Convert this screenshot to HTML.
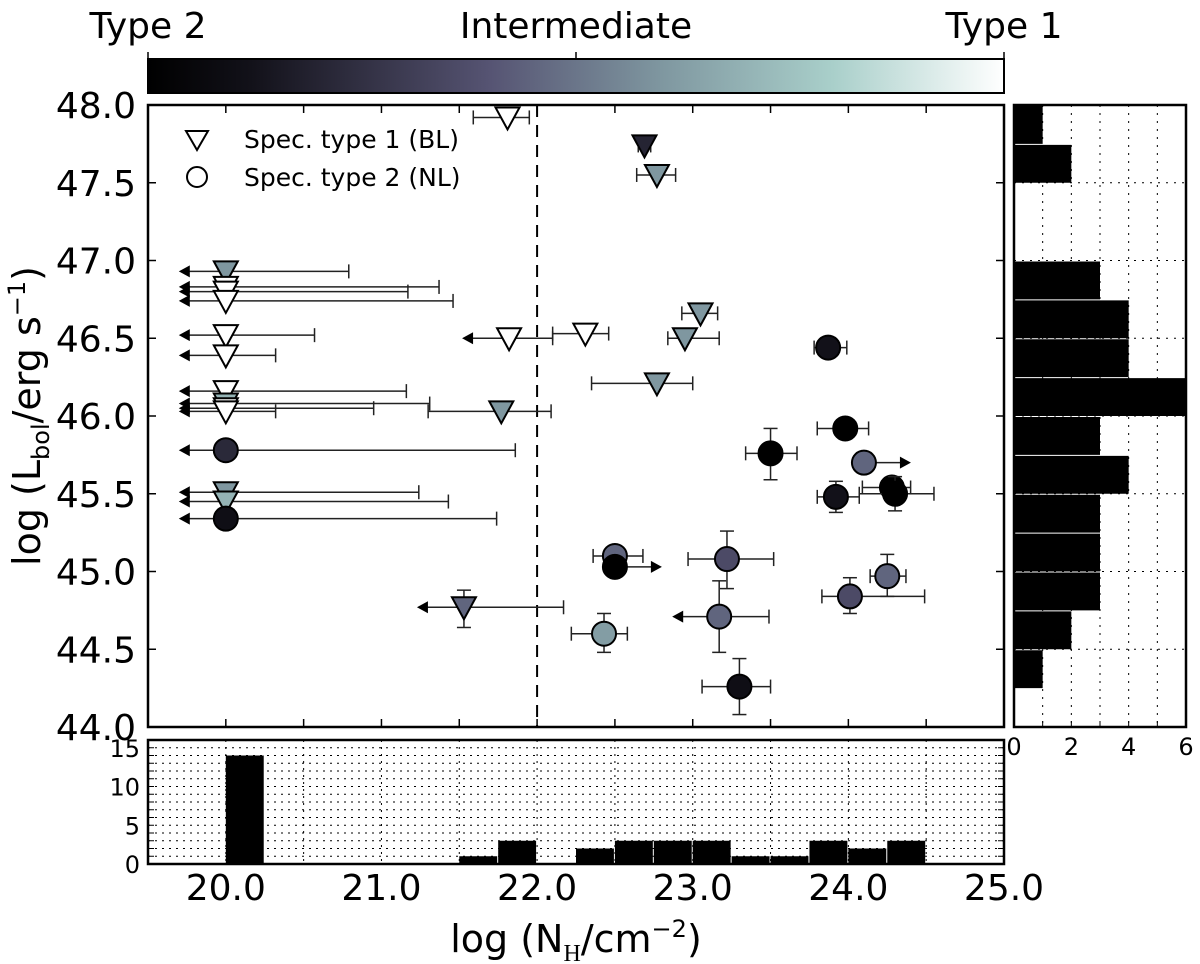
<!DOCTYPE html>
<html><head><meta charset="utf-8"><style>
html,body{margin:0;padding:0;background:#fff;}
svg{display:block;font-family:"DejaVu Sans","Liberation Sans",sans-serif;}
</style></head><body>
<svg id="chart" width="1200" height="964" viewBox="0 0 1200 964">
<defs>
<linearGradient id="cmap" x1="0" x2="1" y1="0" y2="0">
<stop offset="0" stop-color="#000000"/>
<stop offset="0.12" stop-color="#121119"/>
<stop offset="0.4" stop-color="#565473"/>
<stop offset="0.6" stop-color="#7f97a0"/>
<stop offset="0.8" stop-color="#a9cfca"/>
<stop offset="1" stop-color="#ffffff"/>
</linearGradient>
</defs>
<g id="colorbar">
<rect x="148" y="59" width="856" height="34" fill="url(#cmap)" stroke="#000" stroke-width="2"/>
<line x1="148" y1="59" x2="148" y2="52" stroke="#000" stroke-width="1.5"/>
<line x1="576" y1="59" x2="576" y2="52" stroke="#000" stroke-width="1.5"/>
<line x1="1004" y1="59" x2="1004" y2="52" stroke="#000" stroke-width="1.5"/>
<text x="148" y="38" font-size="36" text-anchor="middle">Type 2</text>
<text x="576" y="38" font-size="36" text-anchor="middle">Intermediate</text>
<text x="1004" y="38" font-size="36" text-anchor="middle">Type 1</text>
</g>
<g id="main"></g>
<g id="bottom"></g>
<g id="right"></g>
<g>
<polygon points="186,131 208,131 197,150" fill="#fff" stroke="#000" stroke-width="2"/>
<text x="244" y="148" font-size="25">Spec. type 1 (BL)</text>
<circle cx="197" cy="177" r="10" fill="#fff" stroke="#000" stroke-width="2"/>
<text x="244" y="186" font-size="25">Spec. type 2 (NL)</text>
</g>
<text transform="translate(40,416) rotate(-90)" font-size="38" text-anchor="middle">log (L<tspan font-size="24" dy="9">bol</tspan><tspan dy="-9">/erg s</tspan><tspan font-size="24" dy="-15">−1</tspan><tspan dy="15">)</tspan></text>
<text x="576" y="952" font-size="38" text-anchor="middle">log (N<tspan font-size="24" dy="9" font-family="Liberation Serif,serif">H</tspan><tspan dy="-9">/cm</tspan><tspan font-size="24" dy="-15">−2</tspan><tspan dy="15">)</tspan></text>
</svg>
<script>
// scatter data
const nh     = [20.0,20.0,20.0,20.0,20.0,20.0,20.0,20.0,20.0,20.0,20.0,20.0,20.0,20.0,21.77,21.81,21.82,22.31,22.69,22.77,23.05,22.95,22.77,21.53,22.50,22.50,22.43,23.22,23.17,23.30,23.50,23.87,23.98,24.10,23.92,24.28,24.30,24.25,24.01];
const lbol   = [46.93,46.83,46.80,46.74,46.52,46.39,46.16,46.08,46.05,46.03,45.78,45.51,45.45,45.34,46.03,47.92,46.50,46.53,47.74,47.55,46.66,46.50,46.21,44.77,45.10,45.03,44.60,45.08,44.71,44.26,45.76,46.44,45.92,45.70,45.48,45.54,45.50,44.97,44.84];
const nhLo   = [null,null,null,null,null,null,null,null,null,null,null,null,null,null,21.30,21.59,null,22.10,22.65,22.64,22.93,22.84,22.35,null,22.36,null,22.22,22.97,null,23.06,23.34,23.78,23.80,null,23.80,24.09,24.07,24.14,23.83];
const nhHi   = [20.79,21.37,21.17,21.46,20.57,20.32,21.16,21.31,20.95,20.32,21.86,21.24,21.43,21.74,22.09,21.95,22.10,22.46,22.73,22.89,23.16,23.17,23.00,22.17,22.68,null,22.58,23.52,23.49,23.50,23.67,23.99,24.13,null,24.07,24.40,24.55,24.37,24.49];
const lbolLo = [null,null,null,null,null,null,null,null,null,null,null,null,null,45.29,null,null,null,null,null,null,null,null,null,44.64,null,null,44.48,44.89,44.48,44.08,45.59,null,null,null,45.38,null,45.39,44.84,44.73];
const lbolHi = [null,null,null,null,null,null,null,null,null,null,null,null,null,null,null,null,null,null,null,null,null,null,null,44.88,null,null,44.73,45.26,44.94,44.44,45.92,null,null,null,45.58,null,45.61,45.11,44.96];
const limit  = ['u','u','u','u','u','u','u','u','u','u','u','u','u','u','','','u','','','','','','','u','','l','','','u','','','','','l','','','','',''];
const spec   = [1,1,1,1,1,1,1,1,1,1,2,1,1,2,1,1,1,1,1,1,1,1,1,1,2,2,2,2,2,2,2,2,2,2,2,2,2,2,2];
const tcol   = [0.6,1,1,1,1,1,1,0.7,1,1,0.22,0.6,0.7,0.1,0.6,1,1,1,0.2,0.6,0.6,0.6,0.6,0.45,0.45,0,0.62,0.36,0.45,0.1,0,0.12,0,0.45,0.12,0,0,0.45,0.36];
// histogram data
const nhBins   = [20.0,20.25,20.5,20.75,21.0,21.25,21.5,21.75,22.0,22.25,22.5,22.75,23.0,23.25,23.5,23.75,24.0,24.25];
const nhCounts = [14,0,0,0,0,0,1,3,0,2,3,3,3,1,1,3,2,3];
const lBins    = [47.75,47.5,47.25,47.0,46.75,46.5,46.25,46.0,45.75,45.5,45.25,45.0,44.75,44.5,44.25,44.0];
const lCounts  = [1,2,0,0,3,4,4,6,3,4,3,3,3,2,1,0];
const xTicks   = [20.0,21.0,22.0,23.0,24.0,25.0];
const yTicks   = [44.0,44.5,45.0,45.5,46.0,46.5,47.0,47.5,48.0];
const bTicks   = [0,5,10,15];
const rTicks   = [0,2,4,6];

const NS='http://www.w3.org/2000/svg';
function mk(tag,attrs,parent){const e=document.createElementNS(NS,tag);for(const k in attrs)e.setAttribute(k,attrs[k]);parent.appendChild(e);return e;}
const L=148,R=1004,T=105,B=727;
const X=v=>L+(v-19.5)*(R-L)/5.5;
const Y=v=>B-(v-44)*(B-T)/4.0;
const BT=740,BB=864; const BY=v=>BB-v*(BB-BT)/16;
const RL=1014,RR=1186; const RX=v=>RL+v*(RR-RL)/6;
function cmap(t){
  const st=[[0,[0,0,0]],[0.12,[18,17,25]],[0.4,[86,84,115]],[0.6,[127,151,160]],[0.8,[169,207,202]],[1,[255,255,255]]];
  for(let i=1;i<st.length;i++){if(t<=st[i][0]){const a=st[i-1],b=st[i],f=(t-a[0])/(b[0]-a[0]);return 'rgb('+a[1].map((c,j)=>Math.round(c+(b[1][j]-c)*f)).join(',')+')';}}
  return '#fff';
}
const main=document.getElementById('main');
mk('rect',{x:L,y:T,width:R-L,height:B-T,fill:'#fff',stroke:'none'},main);
for(let v=19.5;v<=25.01;v+=0.5){const x=X(v);mk('line',{x1:x,y1:T,x2:x,y2:T+8,stroke:'#000','stroke-width':1.5},main);mk('line',{x1:x,y1:B,x2:x,y2:B-8,stroke:'#000','stroke-width':1.5},main);}
yTicks.forEach(v=>{const y=Y(v);mk('line',{x1:L,y1:y,x2:L+8,y2:y,stroke:'#000','stroke-width':1.5},main);mk('line',{x1:R,y1:y,x2:R-8,y2:y,stroke:'#000','stroke-width':1.5},main);
 const t=mk('text',{x:L-12,y:y+13,'font-size':36,'text-anchor':'end'},main);t.textContent=v.toFixed(1);
 
 });
const dl=mk('line',{x1:X(22),y1:T,x2:X(22),y2:B,stroke:'#000','stroke-width':2,'stroke-dasharray':'12,8'},main);


for(let i=0;i<nh.length;i++){
  const g=mk('g',{},main);
  
  
  const cx=X(nh[i]),cy=Y(lbol[i]);
  const ln={stroke:'#222','stroke-width':1.5};
  if(nhHi[i]!==null){mk('line',Object.assign({x1:cx,y1:cy,x2:X(nhHi[i]),y2:cy},ln),g);mk('line',Object.assign({x1:X(nhHi[i]),y1:cy-7,x2:X(nhHi[i]),y2:cy+7},ln),g);}
  if(nhLo[i]!==null){mk('line',Object.assign({x1:cx,y1:cy,x2:X(nhLo[i]),y2:cy},ln),g);mk('line',Object.assign({x1:X(nhLo[i]),y1:cy-7,x2:X(nhLo[i]),y2:cy+7},ln),g);}
  if(lbolHi[i]!==null){mk('line',Object.assign({x1:cx,y1:cy,x2:cx,y2:Y(lbolHi[i])},ln),g);mk('line',Object.assign({x1:cx-7,y1:Y(lbolHi[i]),x2:cx+7,y2:Y(lbolHi[i])},ln),g);}
  if(lbolLo[i]!==null){mk('line',Object.assign({x1:cx,y1:cy,x2:cx,y2:Y(lbolLo[i])},ln),g);mk('line',Object.assign({x1:cx-7,y1:Y(lbolLo[i]),x2:cx+7,y2:Y(lbolLo[i])},ln),g);}
  if(limit[i]==='u'){const tip=cx-47;mk('line',Object.assign({x1:cx,y1:cy,x2:tip+10,y2:cy},ln),g);mk('polygon',{points:`${tip},${cy} ${tip+11},${cy-6} ${tip+11},${cy+6}`,fill:'#000'},g);}
  if(limit[i]==='l'){const tip=cx+47;mk('line',Object.assign({x1:cx,y1:cy,x2:tip-10,y2:cy},ln),g);mk('polygon',{points:`${tip},${cy} ${tip-11},${cy-6} ${tip-11},${cy+6}`,fill:'#000'},g);}
  const fill=cmap(tcol[i]);
  if(spec[i]===1) mk('polygon',{points:`${cx-12},${cy-10} ${cx+12},${cy-10} ${cx},${cy+12}`,fill:fill,stroke:'#000','stroke-width':2},g);
  else mk('circle',{cx:cx,cy:cy,r:12,fill:fill,stroke:'#000','stroke-width':2},g);
}
mk('rect',{x:L,y:T,width:R-L,height:B-T,fill:'none',stroke:'#000','stroke-width':2.5},main);

const bot=document.getElementById('bottom');
for(let k=1;k<16;k++){mk('line',{x1:L,y1:BY(k),x2:R,y2:BY(k),stroke:'#000','stroke-width':1,'stroke-dasharray':'2,5'},bot);}
for(let v=20;v<25;v+=0.5){mk('line',{x1:X(v),y1:BT,x2:X(v),y2:BB,stroke:'#000','stroke-width':1,'stroke-dasharray':'2,5'},bot);}
for(let k=0;k<16;k++){mk('line',{x1:L,y1:BY(k),x2:L+6,y2:BY(k),stroke:'#000'},bot);mk('line',{x1:R,y1:BY(k),x2:R-6,y2:BY(k),stroke:'#000'},bot);}
nhBins.forEach((b,i)=>{if(nhCounts[i]>0){const r=mk('rect',{x:X(b),y:BY(nhCounts[i]),width:X(b+0.25)-X(b)-1,height:BB-BY(nhCounts[i]),fill:'#000'},bot);
 
 }});
mk('rect',{x:L,y:BT,width:R-L,height:BB-BT,fill:'none',stroke:'#000','stroke-width':2.5},bot);
bTicks.forEach(v=>{const t=mk('text',{x:L-8,y:BY(v)+9,'font-size':24,'text-anchor':'end'},bot);t.textContent=v;
 
 });
xTicks.forEach(v=>{const t=mk('text',{x:X(v),y:900,'font-size':36,'text-anchor':'middle'},bot);t.textContent=v.toFixed(1);
 
 });

const rg=document.getElementById('right');
for(let k=1;k<6;k++){mk('line',{x1:RX(k),y1:T,x2:RX(k),y2:B,stroke:'#000','stroke-width':1,'stroke-dasharray':'2,6'},rg);}
for(let v=44.5;v<48;v+=0.5){mk('line',{x1:RL,y1:Y(v),x2:RR,y2:Y(v),stroke:'#000','stroke-width':1,'stroke-dasharray':'2,6'},rg);}
lBins.forEach((b,i)=>{if(lCounts[i]>0){const r=mk('rect',{x:RL,y:Y(b+0.25)+1,width:RX(lCounts[i])-RL,height:Y(b)-Y(b+0.25)-1,fill:'#000'},rg);
 
 }});
for(let k=0;k<=6;k++){mk('line',{x1:RX(k),y1:B,x2:RX(k),y2:B-6,stroke:'#000'},rg);}
mk('rect',{x:RL,y:T,width:RR-RL,height:B-T,fill:'none',stroke:'#000','stroke-width':2.5},rg);
rTicks.forEach(v=>{const t=mk('text',{x:RX(v),y:755,'font-size':24,'text-anchor':'middle'},rg);t.textContent=v;
 
 });
</script>
</body></html>
